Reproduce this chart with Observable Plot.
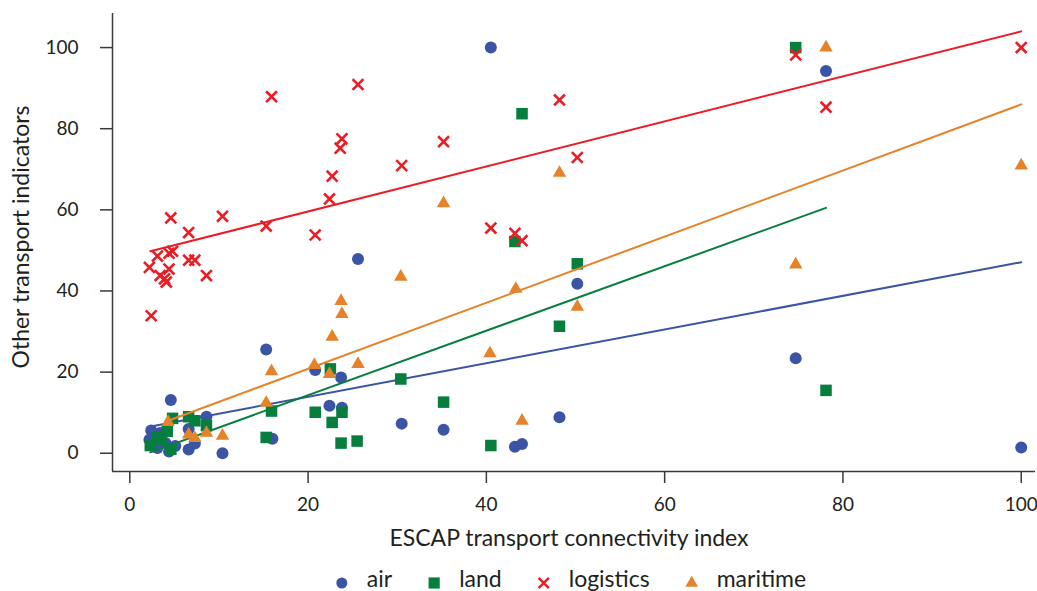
<!DOCTYPE html>
<html><head><meta charset="utf-8">
<script src="https://cdn.jsdelivr.net/npm/d3@7"></script>
<script src="https://cdn.jsdelivr.net/npm/@observablehq/plot@0.6"></script>
<style>
body{margin:0;background:#fff;font-family:Lato,sans-serif;}
#chart svg{display:block}
</style></head><body><div id="chart"></div>
<script>
const seriesNames = ["air","land","logistics","maritime"];
const seriesColors = ["#3B54A5","#067F3E","#EC1C24","#E5822A"];
const seriesSymbols = ["circle","square","times","triangle"];

const airX = [4.6, 8.6, 2.4, 2.2, 3.1, 4.4, 5.1, 6.6, 7.3, 6.6, 10.4, 3.4, 4.0, 15.3, 16.0, 20.8, 22.4, 23.7, 23.8, 25.6, 30.5, 35.2, 40.5, 43.2, 44.0, 48.2, 50.2, 74.7, 78.1, 100];
const airY = [13.1, 9.0, 5.6, 3.3, 1.3, 0.4, 1.8, 0.9, 2.4, 6.0, 0.0, 5.0, 2.5, 25.6, 3.6, 20.5, 11.7, 18.7, 11.2, 47.9, 7.3, 5.8, 100, 1.6, 2.3, 8.9, 41.8, 23.4, 94.2, 1.4];

const landX = [2.3, 3.1, 3.5, 4.2, 4.6, 4.8, 6.6, 7.3, 8.6, 15.3, 15.9, 20.8, 22.5, 22.7, 23.7, 23.8, 25.5, 30.4, 35.2, 40.5, 43.2, 44.0, 48.2, 50.2, 74.7, 78.1];
const landY = [1.9, 3.9, 3.4, 5.4, 1.0, 8.6, 9.0, 8.0, 6.8, 3.9, 10.4, 10.1, 20.8, 7.6, 2.5, 10.1, 3.0, 18.3, 12.6, 1.9, 52.2, 83.7, 31.3, 46.7, 100, 15.5];

const logisticsX = [2.4, 2.2, 3.1, 3.4, 3.9, 4.1, 4.4, 4.4, 4.8, 4.6, 6.6, 6.6, 7.3, 8.6, 10.4, 15.3, 15.9, 20.8, 22.4, 22.7, 23.6, 23.8, 25.6, 30.5, 35.2, 40.5, 43.2, 44.0, 48.2, 50.2, 74.7, 78.1, 100];
const logisticsY = [33.9, 45.8, 48.6, 43.8, 43.0, 42.2, 45.4, 49.3, 49.8, 58.0, 54.4, 47.6, 47.6, 43.8, 58.4, 56.0, 87.9, 53.8, 62.7, 68.3, 75.2, 77.5, 90.9, 70.9, 76.8, 55.5, 54.2, 52.4, 87.1, 72.9, 98.2, 85.3, 100];

const maritimeX = [4.3, 6.6, 7.3, 8.6, 10.4, 15.3, 15.9, 20.7, 22.4, 22.7, 23.7, 23.8, 25.6, 30.4, 35.2, 40.4, 43.3, 44.0, 48.2, 50.2, 74.7, 78.1, 100];
const maritimeY = [7.7, 4.6, 3.7, 5.0, 4.3, 12.4, 20.2, 21.7, 19.5, 28.7, 37.5, 34.3, 22.0, 43.5, 61.6, 24.6, 40.5, 8.0, 69.1, 36.1, 46.5, 100, 70.9];

// fitted linear trend per series
const fitIntercept = [5.6, -1.6, 48.5, 4.5];
const fitSlope = [0.415, 0.795, 0.555, 0.815];
const fitFrom = [2.2, 2.3, 2.3, 4.3];
const fitTo = [100, 78.1, 100, 100];

const xTicks = [0, 20, 40, 60, 80, 100];
const yTicks = [0, 20, 40, 60, 80, 100];
const xDomain = [-1.94, 101.6];
const yDomain = [-4.5, 108.4];
const xTitle = "ESCAP transport connectivity index";
const yTitle = "Other transport indicators";

const xs = [airX, landX, logisticsX, maritimeX];
const ys = [airY, landY, logisticsY, maritimeY];

const W = 1037, H = 556;
const textColor = "#231F20", axisColor = "#3a3a3a";

const marks = [
  Plot.ruleX([xDomain[0]], {stroke: axisColor, strokeWidth: 1.5}),
  Plot.ruleY([yDomain[0]], {stroke: axisColor, strokeWidth: 1.5}),
  Plot.axisX({ticks: xTicks, tickSize: 12, tickPadding: 14, label: null, fontSize: 19, stroke: axisColor, strokeWidth: 1.5, fill: textColor}),
  Plot.axisY({ticks: yTicks, tickSize: 12, tickPadding: 22, label: null, fontSize: 19, stroke: axisColor, strokeWidth: 1.5, fill: textColor}),
  Plot.text([xTitle], {frameAnchor: "bottom", dy: 67, dx: -5, lineAnchor: "middle", fontSize: 23, fill: textColor})
];

const symR = [6, 6.5, 5, 5];
seriesNames.forEach((name, i) => {
  const pts = xs[i].map((x, j) => ({x, y: ys[i][j]}));
  if (seriesSymbols[i] === "times") {
    marks.push(Plot.dot(pts, {x: "x", y: "y", symbol: "times", r: symR[i], stroke: seriesColors[i], strokeWidth: 2.6, fill: "none"}));
  } else {
    marks.push(Plot.dot(pts, {x: "x", y: "y", symbol: seriesSymbols[i], r: symR[i], fill: seriesColors[i], stroke: "none"}));
  }
  const fit = [fitFrom[i], fitTo[i]].map(x => ({x, y: fitIntercept[i] + fitSlope[i] * x}));
  marks.push(Plot.line(fit, {x: "x", y: "y", stroke: seriesColors[i], strokeWidth: 2}));
});

const chart = Plot.plot({
  width: W, height: H,
  marginLeft: 112, marginRight: 2, marginTop: 13, marginBottom: H - 471,
  x: {domain: xDomain},
  y: {domain: yDomain},
  style: {fontFamily: "Lato, sans-serif", fontSize: "19px", color: textColor, background: "#fff"},
  marks
});
document.getElementById("chart").appendChild(chart);

// y-axis title (rotated), placed left of the tick labels
d3.select(chart).append("text")
  .attr("transform", "translate(22,237) rotate(-90)")
  .attr("text-anchor", "middle").attr("dy", "0.32em")
  .attr("fill", textColor)
  .style("font-family", "Lato, sans-serif").style("font-size", "23px")
  .text(yTitle);

// legend below the plot
const leg = d3.select("#chart").append("svg").attr("width", W).attr("height", 35)
  .style("font-family", "Lato, sans-serif").style("font-size", "23px");
const items = [];
let cx = 0;
seriesNames.forEach((name, i) => {
  const g = leg.append("g");
  if (seriesSymbols[i] === "circle") {
    g.append("circle").attr("r", 5.5).attr("fill", seriesColors[i]);
  } else if (seriesSymbols[i] === "square") {
    g.append("path").attr("d", d3.symbol(d3.symbolSquare, 125)()).attr("fill", seriesColors[i]);
  } else if (seriesSymbols[i] === "times") {
    g.append("path").attr("d", d3.symbol(d3.symbolTimes, 70)()).attr("stroke", seriesColors[i]).attr("stroke-width", 2.4).attr("fill", "none");
  } else {
    g.append("path").attr("d", d3.symbol(d3.symbolTriangle, 70)()).attr("fill", seriesColors[i]);
  }
  const t = g.append("text").attr("x", 25).attr("y", 4).attr("fill", textColor).text(name);
  const w = t.node().getComputedTextLength();
  items.push({g, cx, w});
  cx += 25 + w + 42;
});
const total = cx - 42 + 6;
const start = 571 - total / 2 + 6;
items.forEach(it => it.g.attr("transform", `translate(${start + it.cx},27)`));
</script></body></html>
